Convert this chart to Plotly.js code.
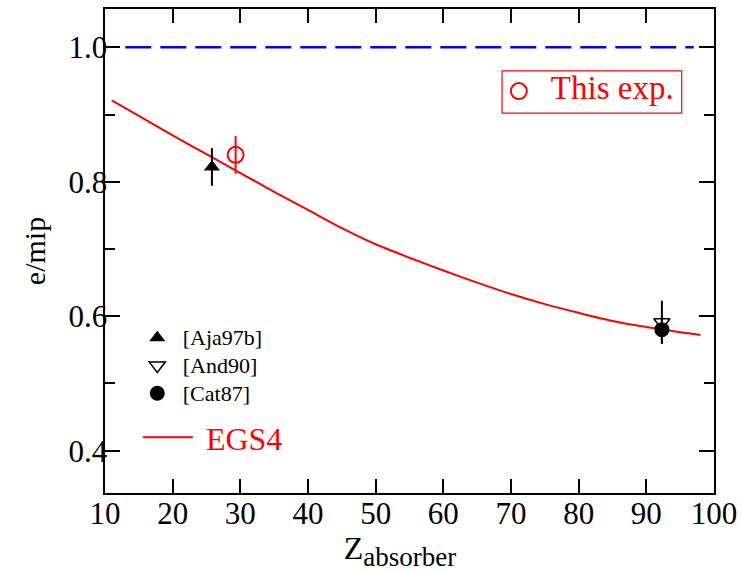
<!DOCTYPE html>
<html>
<head>
<meta charset="utf-8">
<script src="https://cdn.plot.ly/plotly-3.0.1.min.js"></script>
<style>html,body{margin:0;padding:0;background:#fff;}#chart{width:742px;height:572px;}</style>
</head>
<body>
<div id="chart"></div>
<script>
// EGS4 simulation curve
const egsZ = [11, 15, 20, 25, 30, 35, 40, 45, 50, 55, 60, 65, 70, 75, 80, 85, 90, 95, 98];
const egsE = [0.921, 0.898, 0.869, 0.841, 0.813, 0.785, 0.758, 0.731, 0.707, 0.687, 0.668, 0.650, 0.633, 0.618, 0.605, 0.593, 0.584, 0.576, 0.572];

// reference line e/mip = 1
const refZ = [13, 97];
const refE = [1.0, 1.0];

// This experiment
const thisZ = [29.3];
const thisE = [0.840];
const thisErr = [0.028];

// [Aja97b]
const ajaZ = [25.8];
const ajaE = [0.822];
const ajaErr = [0.028];

// [And90]
const andZ = [92.3];
const andE = [0.591];
const andErr = [0.032];

// [Cat87]
const catZ = [92.3];
const catE = [0.580];
const catErr = [0.021];

const xRange = [10, 100];
const yRange = [0.337, 1.057];
const yTicks = [0.4, 0.6, 0.8, 1.0];
const yTickText = ['0.4', '0.6', '0.8', '1.0'];
const yMinor = [0.5, 0.7, 0.9];

const FONT = 'Liberation Serif, Times New Roman, Times, serif';
const big = (t) => '<span style="font-size:33px">' + t + '</span>';
const small = (t) => '<span style="font-size:22px">' + t + '</span>';

const traces = [
  {x: refZ, y: refE, xaxis: 'x2', yaxis: 'y2', mode: 'lines', line: {color: '#0000ff', width: 2.5, dash: '26px,9px'}, showlegend: false, hoverinfo: 'skip'},
  {x: egsZ, y: egsE, mode: 'lines', name: '\u00a0EGS4', line: {color: '#ff0000', width: 2, shape: 'spline', smoothing: 0.8}, legend: 'legend3'},
  {x: ajaZ, y: ajaE, mode: 'markers', name: small('\u00a0[Aja97b]'), marker: {symbol: 'triangle-up', size: 14, color: '#000'},
   error_y: {type: 'data', array: ajaErr, visible: true, color: '#000', thickness: 2, width: 0}, legend: 'legend2'},
  {x: andZ, y: andE, mode: 'markers', name: small('\u00a0[And90]'), marker: {symbol: 'triangle-down-open', size: 14, color: '#000', line: {width: 1.5}},
   error_y: {type: 'data', array: andErr, visible: true, color: '#000', thickness: 2, width: 0}, legend: 'legend2'},
  {x: catZ, y: catE, mode: 'markers', name: small('\u00a0[Cat87]'), marker: {symbol: 'circle', size: 15, color: '#000'},
   error_y: {type: 'data', array: catErr, visible: true, color: '#000', thickness: 2, width: 0}, legend: 'legend2'},
  {x: thisZ, y: thisE, mode: 'markers', name: big('This exp.'), marker: {symbol: 'circle-open', size: 16, color: '#ff0000', line: {width: 2}},
   error_y: {type: 'data', array: thisErr, visible: true, color: '#ff0000', thickness: 2, width: 0}, legend: 'legend'}
];

const layout = {
  width: 742, height: 572,
  margin: {l: 105, r: 28, t: 9, b: 79},
  paper_bgcolor: '#fff', plot_bgcolor: '#fff',
  font: {family: FONT, color: '#000', size: 31},
  // frame + ticks
  xaxis: {
    range: xRange, dtick: 10, tick0: 10,
    ticks: 'inside', ticklen: 14, tickwidth: 2, tickcolor: '#000',
    showline: true, linewidth: 2, linecolor: '#000', mirror: 'ticks',
    showgrid: false, zeroline: false, showticklabels: false
  },
  yaxis: {
    range: yRange,
    tickvals: yTicks,
    ticks: 'inside', ticklen: 15, tickwidth: 2, tickcolor: '#000',
    minor: {tickvals: yMinor, ticks: 'inside', ticklen: 10, tickwidth: 2, tickcolor: '#000', showgrid: false},
    showline: true, linewidth: 2, linecolor: '#000', mirror: 'ticks',
    showgrid: false, zeroline: false, showticklabels: false
  },
  // tick labels + titles, slightly offset toward the frame
  xaxis2: {
    overlaying: 'x', matches: 'x', anchor: 'free', position: 0.003, side: 'bottom',
    range: xRange, dtick: 10, tick0: 10, ticks: '', showline: false, showgrid: false, zeroline: false,
    tickfont: {family: FONT, size: 31, color: '#000'},
    title: {text: 'Z<sub><span style="font-size:27px">absorber\u00a0\u00a0\u2009</span></sub>', font: {family: FONT, size: 32, color: '#000'}, standoff: 8}
  },
  yaxis2: {
    overlaying: 'y', matches: 'y', anchor: 'free', position: 0.0035, side: 'left',
    range: yRange, tickvals: yTicks, ticktext: yTickText, ticks: '', showline: false, showgrid: false, zeroline: false,
    tickfont: {family: FONT, size: 31, color: '#000'},
    title: {text: 'e/mip', font: {family: FONT, size: 30, color: '#000'}, standoff: 12}
  },
  showlegend: true,
  legend: {x: 0.627, y: 0.872, xanchor: 'left', yanchor: 'top', bgcolor: 'rgba(0,0,0,0)',
           borderwidth: 0, font: {family: FONT, size: 21, color: '#ff0000'}, itemwidth: 54},
  legend2: {x: 0.053, y: 0.3595, xanchor: 'left', yanchor: 'top', bgcolor: 'rgba(0,0,0,0)',
            borderwidth: 0, font: {family: FONT, size: 19, color: '#000'}, itemwidth: 30, tracegroupgap: 0},
  legend3: {x: 0.054, y: 0.1715, xanchor: 'left', yanchor: 'top', bgcolor: 'rgba(0,0,0,0)',
            borderwidth: 0, font: {family: FONT, size: 32, color: '#ff0000'}, itemwidth: 50},
  shapes: [
    {type: 'rect', xref: 'paper', yref: 'paper', x0: 0.652, x1: 0.947, y0: 0.785, y1: 0.872,
     line: {color: '#ff0000', width: 1.2}, fillcolor: 'rgba(0,0,0,0)'}
  ]
};

Plotly.newPlot('chart', traces, layout, {displayModeBar: false, staticPlot: true});
</script>
</body>
</html>
